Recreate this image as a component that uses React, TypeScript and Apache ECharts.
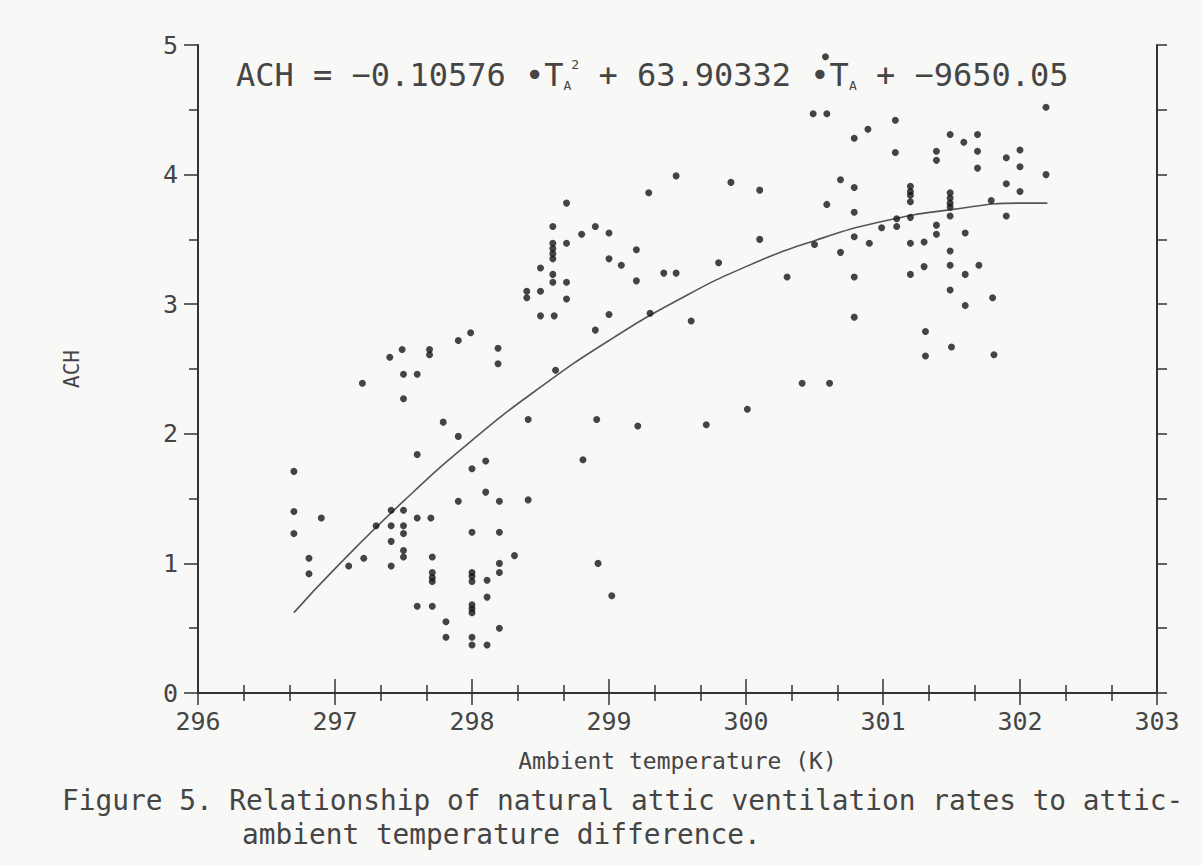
import React, { useEffect, useRef } from "react";
import * as echarts from "echarts";

// Ambient temperature (K) of each observation
const tempK: number[] = [
  296.70, 296.70, 296.70, 296.81, 296.81, 296.90, 297.10, 297.21, 297.20, 297.30,
  297.41, 297.41, 297.41, 297.41, 297.50, 297.50, 297.50, 297.50, 297.50, 297.50,
  297.60, 297.50, 297.60, 297.70, 297.60, 297.60, 297.71, 297.71, 297.71, 297.71,
  297.71, 297.79, 297.81, 297.81, 297.90, 297.90, 298.00, 298.00, 298.00, 298.00,
  298.00, 298.00, 298.00, 298.00, 298.00, 298.00, 298.10, 298.10, 298.11, 298.11,
  298.11, 298.20, 298.20, 298.20, 298.20, 298.20, 298.31, 298.41, 298.41, 297.40,
  297.49, 297.69, 297.69, 297.90, 297.99, 298.19, 298.19, 298.40, 298.40, 298.50,
  298.50, 298.50, 298.60, 298.59, 298.59, 298.59, 298.59, 298.59, 298.59, 298.59,
  298.69, 298.69, 298.69, 298.69, 298.61, 298.80, 298.90, 299.00, 299.00, 299.09,
  299.20, 299.20, 299.29, 299.40, 299.49, 299.49, 299.80, 299.89, 300.10, 300.10,
  300.30, 299.00, 299.30, 298.90, 299.60, 300.50, 300.49, 300.59, 300.59, 300.69,
  300.69, 300.79, 300.79, 300.79, 300.79, 300.79, 300.79, 298.91, 299.21, 299.71,
  300.01, 298.81, 298.92, 299.02, 300.41, 300.61, 300.89, 301.09, 301.09, 301.49,
  301.59, 301.69, 301.69, 301.69, 301.39, 301.39, 301.90, 301.90, 302.00, 302.00,
  302.00, 302.19, 302.19, 301.20, 301.20, 301.20, 301.20, 301.49, 301.49, 301.49,
  301.49, 301.49, 301.79, 301.90, 300.99, 301.10, 301.10, 301.20, 301.39, 301.39,
  301.60, 300.90, 301.20, 301.30, 301.49, 301.30, 301.49, 301.60, 301.70, 301.20,
  301.49, 301.80, 301.60, 301.31, 301.50, 301.31, 301.81, 300.58,
];

// Air changes per hour of each observation
const ach: number[] = [
  1.71, 1.40, 1.23, 1.04, 0.92, 1.35, 0.98, 1.04, 2.39, 1.29,
  1.41, 1.29, 1.17, 0.98, 1.41, 1.29, 1.23, 1.10, 1.05, 2.46,
  2.46, 2.27, 1.35, 1.35, 1.84, 0.67, 0.67, 1.05, 0.93, 0.89,
  0.86, 2.09, 0.55, 0.43, 1.98, 1.48, 1.73, 1.24, 0.93, 0.90,
  0.86, 0.68, 0.65, 0.62, 0.43, 0.37, 1.79, 1.55, 0.87, 0.74,
  0.37, 1.48, 1.24, 1.00, 0.93, 0.50, 1.06, 2.11, 1.49, 2.59,
  2.65, 2.65, 2.61, 2.72, 2.78, 2.66, 2.54, 3.10, 3.05, 3.28,
  3.10, 2.91, 2.91, 3.60, 3.47, 3.43, 3.39, 3.35, 3.23, 3.17,
  3.78, 3.47, 3.17, 3.04, 2.49, 3.54, 3.60, 3.55, 3.35, 3.30,
  3.42, 3.18, 3.86, 3.24, 3.24, 3.99, 3.32, 3.94, 3.50, 3.88,
  3.21, 2.92, 2.93, 2.80, 2.87, 3.46, 4.47, 4.47, 3.77, 3.96,
  3.40, 4.28, 3.90, 3.71, 3.52, 3.21, 2.90, 2.11, 2.06, 2.07,
  2.19, 1.80, 1.00, 0.75, 2.39, 2.39, 4.35, 4.42, 4.17, 4.31,
  4.25, 4.31, 4.18, 4.05, 4.18, 4.11, 4.13, 3.93, 4.19, 4.06,
  3.87, 4.52, 4.00, 3.91, 3.87, 3.84, 3.79, 3.86, 3.82, 3.78,
  3.75, 3.68, 3.80, 3.68, 3.59, 3.66, 3.60, 3.67, 3.61, 3.54,
  3.55, 3.47, 3.47, 3.48, 3.41, 3.29, 3.30, 3.23, 3.30, 3.23,
  3.11, 3.05, 2.99, 2.79, 2.67, 2.60, 2.61, 4.91,
];

// Fitted curve
const fitT: number[] = [296.7, 297.0, 297.5, 298.0, 298.5, 299.0, 299.5, 300.0, 300.5, 301.0, 301.5, 302.0, 302.2];
const fitACH: number[] = [0.62, 0.96, 1.48, 1.95, 2.36, 2.72, 3.03, 3.29, 3.49, 3.64, 3.73, 3.78, 3.78];

const xTicks = { min: 296, max: 303, interval: 1 };
const yTicks = { min: 0, max: 5, interval: 1 };

const FONT = "'DejaVu Sans Mono', 'Liberation Mono', monospace";
const INK = "#454545";

export default function App() {
  const ref = useRef<HTMLDivElement>(null);

  useEffect(() => {
    if (!ref.current) return;
    const chart = echarts.init(ref.current, undefined, { renderer: "svg" });

    const scatterData = tempK.map((t, i) => [t, ach[i]]);
    const fitData = fitT.map((t, i) => [t, fitACH[i]]);

    const axisLine = { show: true, lineStyle: { color: "#333", width: 2 } };

    chart.setOption({
      animation: false,
      backgroundColor: "#f8f8f6",
      grid: { left: 198, right: 46, top: 45, bottom: 172, containLabel: false },
      xAxis: [
        {
          type: "value",
          position: "bottom",
          min: xTicks.min,
          max: xTicks.max,
          interval: xTicks.interval,
          name: "Ambient temperature (K)",
          nameLocation: "middle",
          nameGap: 56,
          nameTextStyle: { fontSize: 23, color: INK, fontFamily: FONT },
          axisLine,
          axisTick: { show: true, length: 12, lineStyle: { color: "#333", width: 1.5 } },
          minorTick: { show: true, splitNumber: 3, length: 8, lineStyle: { color: "#333", width: 1.5 } },
          axisLabel: { fontSize: 25, color: INK, fontFamily: FONT, margin: 16 },
          splitLine: { show: false },
        },
        {
          type: "value",
          position: "top",
          min: xTicks.min,
          max: xTicks.max,
          interval: xTicks.interval,
          axisLine,
          axisTick: { show: true, length: 14, lineStyle: { color: "#333", width: 1.5 } },
          minorTick: { show: true, splitNumber: 3, length: 8, lineStyle: { color: "#333", width: 1.5 } },
          axisLabel: { show: false },
          splitLine: { show: false },
        },
      ],
      yAxis: [
        {
          type: "value",
          position: "left",
          min: yTicks.min,
          max: yTicks.max,
          interval: yTicks.interval,
          name: "ACH",
          nameLocation: "middle",
          nameRotate: 90,
          nameGap: 116,
          nameTextStyle: { fontSize: 21, color: INK, fontFamily: FONT },
          axisLine,
          axisTick: { show: true, length: 14, lineStyle: { color: "#333", width: 1.5 } },
          minorTick: { show: true, splitNumber: 2, length: 9, lineStyle: { color: "#333", width: 1.5 } },
          axisLabel: { fontSize: 25, color: INK, fontFamily: FONT, margin: 20 },
          splitLine: { show: false },
        },
        {
          type: "value",
          position: "right",
          min: yTicks.min,
          max: yTicks.max,
          interval: yTicks.interval,
          axisLine,
          axisTick: { show: true, length: 10, lineStyle: { color: "#333", width: 1.5 } },
          minorTick: { show: true, splitNumber: 2, length: 10, lineStyle: { color: "#333", width: 1.5 } },
          axisLabel: { show: false },
          splitLine: { show: false },
        },
      ],
      series: [
        {
          type: "scatter",
          data: scatterData,
          symbol: "circle",
          symbolSize: 7,
          itemStyle: { color: "#161616" },
          z: 3,
        },
        {
          type: "line",
          data: fitData,
          smooth: true,
          showSymbol: false,
          lineStyle: { color: "#555", width: 1.6 },
          z: 2,
        },
      ],
      graphic: [
        {
          type: "text",
          left: 236,
          top: 58,
          style: {
            text: "{n|ACH = −0.10576 •T}{sub|A}{sup|2}{n| + 63.90332 •T}{sub|A}{n| + −9650.05}",
            fill: INK,
            rich: {
              n: { fontSize: 32, fontFamily: FONT, fill: INK, lineHeight: 34 },
              sub: { fontSize: 13, fontFamily: FONT, fill: INK, verticalAlign: "bottom", lineHeight: 34 },
              sup: { fontSize: 13, fontFamily: FONT, fill: INK, verticalAlign: "top", lineHeight: 34 },
            },
          },
        },
        {
          type: "text",
          left: 62,
          top: 786,
          style: {
            text: "Figure 5. Relationship of natural attic ventilation rates to attic-",
            fontSize: 27.8,
            fontFamily: FONT,
            fill: INK,
          },
        },
        {
          type: "text",
          left: 242,
          top: 820,
          style: {
            text: "ambient temperature difference.",
            fontSize: 27.8,
            fontFamily: FONT,
            fill: INK,
          },
        },
      ],
    });

    return () => chart.dispose();
  }, []);

  return (
    <div
      ref={ref}
      style={{ position: "fixed", left: 0, top: 0, width: 1203, height: 865 }}
    />
  );
}
